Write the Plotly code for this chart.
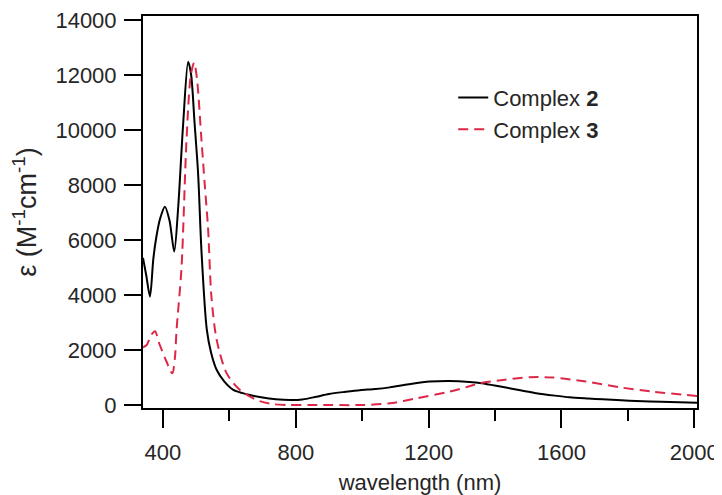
import plotly.graph_objects as go

# Complex 2 (black solid)
wl2 = [340, 350, 361, 371, 380, 392, 406, 420, 434, 446, 461, 476, 485, 495, 506, 516,
       532, 545, 562, 585, 612, 640, 662, 700, 740, 782, 820, 862, 900, 950, 993, 1040,
       1083, 1140, 1203, 1263, 1323, 1360, 1424, 1480, 1524, 1580, 1624, 1680, 1724,
       1780, 1825, 1900, 2008]
eps2 = [5350, 4700, 3940, 5300, 6100, 6800, 7210, 6700, 5580, 7200, 10240, 12480, 12000,
        10300, 8400, 5600, 2750, 1900, 1270, 850, 550, 430, 360, 270, 210, 180, 200, 300,
        400, 480, 540, 580, 640, 750, 850, 875, 840, 790, 650, 530, 430, 340, 280, 235,
        205, 170, 145, 115, 85]

# Complex 3 (red dashed)
wl3 = [340, 351, 365, 376, 390, 410, 428, 436, 441, 456, 471, 484, 494, 503, 516, 526,
       536, 546, 562, 592, 632, 682, 732, 780, 850, 1000, 1083, 1163, 1263, 1323, 1353,
       1424, 1504, 1574, 1674, 1775, 1875, 2008]
eps3 = [2100, 2180, 2550, 2680, 2200, 1600, 1150, 1700, 2730, 5000, 9640, 12000, 12450,
        11800, 9640, 8000, 6400, 3940, 2360, 1150, 545, 180, 30, 0, 0, 0, 60, 240, 485,
        680, 790, 910, 1006, 1000, 850, 643, 485, 330]

x_ticks = [400, 800, 1200, 1600, 2000]
y_ticks = [0, 2000, 4000, 6000, 8000, 10000, 12000, 14000]

FONT = "Liberation Sans, Arial, sans-serif"
INK = "#262626"

fig = go.Figure()
fig.add_trace(go.Scatter(
    x=wl2, y=eps2, mode="lines", name="Complex <b>2</b>",
    line=dict(color="black", width=2, shape="spline", smoothing=0.8),
))
fig.add_trace(go.Scatter(
    x=wl3, y=eps3, mode="lines", name="Complex <b>3</b>",
    line=dict(color="#dc2846", width=2, dash="10px,6px", shape="spline", smoothing=0.8),
))

# page body has an 8px margin (left/top), so the figure is 8px smaller than the window
fig.update_layout(
    width=714, height=487,
    margin=dict(l=135, r=25, t=8, b=87),
    paper_bgcolor="white", plot_bgcolor="white",
    font=dict(family=FONT, size=22, color=INK),
    showlegend=True,
    legend=dict(x=0.56, y=0.845, xanchor="left", yanchor="top",
                bgcolor="rgba(0,0,0,0)", font=dict(size=22, color=INK),
                tracegroupgap=0),
)
fig.update_xaxes(
    range=[340, 2008], tickvals=x_ticks, ticktext=[str(v) for v in x_ticks],
    automargin=False, ticklabeloverflow="allow",
    showline=True, mirror=True, linecolor="black", linewidth=2,
    ticks="outside", ticklen=18, tickwidth=2, tickcolor="black",
    ticklabelstandoff=6,
    minor=dict(tickvals=[600, 1000, 1400, 1800], ticks="outside", ticklen=11,
               tickwidth=2, tickcolor="black"),
    showgrid=False, zeroline=False,
    tickfont=dict(size=22, color=INK),
    title=dict(text="wavelength (nm)", font=dict(size=22, color=INK), standoff=14),
)
fig.update_yaxes(
    range=[-110, 14145], tickvals=y_ticks, ticktext=[str(v) for v in y_ticks],
    automargin=False, ticklabeloverflow="allow",
    showline=True, mirror=True, linecolor="black", linewidth=2,
    ticks="outside", ticklen=17, tickwidth=2, tickcolor="black",
    ticklabelstandoff=3,
    showgrid=False, zeroline=False,
    tickfont=dict(size=22, color=INK),
    title=dict(text="ε (M<sup>-1</sup>cm<sup>-1</sup>)", font=dict(size=27, color=INK),
               standoff=14),
)

fig.write_html("out.html")
